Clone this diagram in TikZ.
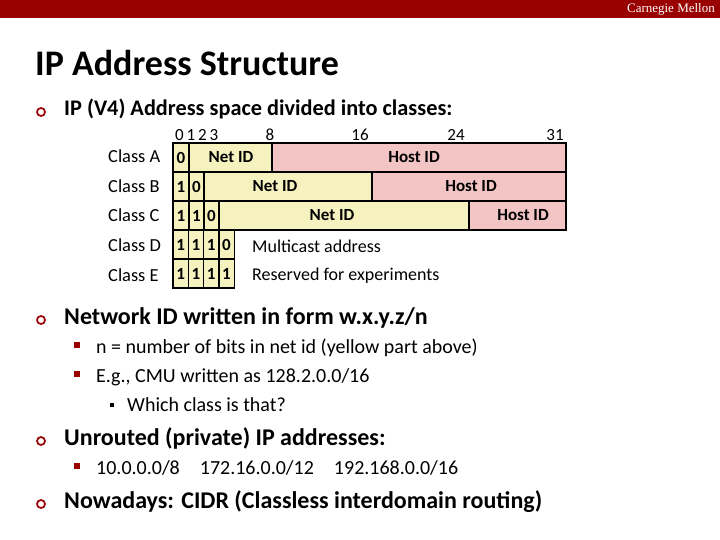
\documentclass[tikz,border=0pt]{standalone}
\usepackage{fontspec}
\setmainfont{Carlito}
\newfontfamily\cmufont{Liberation Serif}
\definecolor{cmured}{RGB}{153,0,0}
\definecolor{netyellow}{RGB}{246,242,192}
\definecolor{hostpink}{RGB}{242,196,196}

\begin{document}
\begin{tikzpicture}[x=1pt,y=-1pt]
\tikzstyle{bullet}=[circle,draw=cmured,line width=1.7pt,minimum size=8pt,inner sep=0pt]
\tikzstyle{sq}=[fill=cmured,minimum size=6pt,inner sep=0pt]
\tikzstyle{smallsq}=[fill=black,minimum size=4pt,inner sep=0pt]
\tikzstyle{lone}=[anchor=base west,inner sep=0pt,font=\fontsize{24}{28}\selectfont\bfseries]
\tikzstyle{ltwo}=[anchor=base west,inner sep=0pt,font=\fontsize{20}{24}\selectfont]
\tikzstyle{classlbl}=[anchor=west,inner sep=0pt,font=\fontsize{18.4}{22}\selectfont]
\tikzstyle{bitnum}=[inner sep=0pt,font=\fontsize{17}{20}\selectfont]
\tikzstyle{field}=[draw,line width=1.5pt,inner sep=0pt,minimum height=29pt]
\tikzstyle{net}=[field,fill=netyellow]
\tikzstyle{host}=[field,fill=hostpink]
\tikzstyle{ftext}=[inner sep=0pt,font=\fontsize{17}{20}\selectfont\bfseries]
\tikzstyle{note}=[anchor=west,inner sep=0pt,font=\fontsize{18}{21}\selectfont]
\useasboundingbox (0,0) rectangle (720,540);
% header bar
\fill[cmured] (0,0) rectangle (720,18);
\node[anchor=east,inner sep=0pt,text=white,font=\cmufont\fontsize{13}{15}\selectfont] (cmu) at (715,9.5) {Carnegie Mellon};
\node[anchor=base west,inner sep=0pt,font=\fontsize{36}{40}\selectfont\bfseries] (title) at (35,76) {IP Address Structure};
% first bullet
\node[bullet] (b1) at (41,112) {};
\node[lone,font=\fontsize{22.3}{26}\selectfont\bfseries] (t1) at (64,116) {IP (V4) Address space divided into classes:};
% bit numbers
\node[bitnum,anchor=west] (n0) at (175,135) {0\,1\,2\,3};
\node[bitnum] (n8) at (270,135) {8};
\node[bitnum] (n16) at (360,135) {16};
\node[bitnum] (n24) at (456,135) {24};
\node[bitnum] (n31) at (555,135) {31};
% class labels
\node[classlbl] (ca) at (108,156) {Class A};
\node[classlbl] (cb) at (108,186) {Class B};
\node[classlbl] (cc) at (108,215) {Class C};
\node[classlbl] (cd) at (108,245) {Class D};
\node[classlbl] (ce) at (108,275) {Class E};
% class A
\node[host,minimum width=294] (ahost) at (419,157.5) {};
\node[net,minimum width=83] (anet) at (230.5,157.5) {};
\node[net,minimum width=16] (a0) at (181,157.5) {};
\node[ftext] at (a0) {0};
\node[ftext] (anett) at (231,157.5) {Net ID};
\node[ftext] (ahostt) at (414,157.5) {Host ID};
% class B
\node[host,minimum width=194] (bhost) at (469,186.5) {};
\node[net,minimum width=168] (bnet) at (288,186.5) {};
\node[net,minimum width=16] (b0) at (181,186.5) {};
\node[net,minimum width=15] (b1c) at (196.5,186.5) {};
\node[ftext] at (b0) {1};
\node[ftext] at (b1c) {0};
\node[ftext] (bnett) at (275,186.5) {Net ID};
\node[ftext] (bhostt) at (471,186.5) {Host ID};
% class C
\node[host,minimum width=97] (chost) at (517.5,215.5) {};
\node[net,minimum width=250] (cnet) at (344,215.5) {};
\node[net,minimum width=16] (c0) at (181,215.5) {};
\node[net,minimum width=15] (c1) at (196.5,215.5) {};
\node[net,minimum width=15] (c2) at (211.5,215.5) {};
\node[ftext] at (c0) {1};
\node[ftext] at (c1) {1};
\node[ftext] at (c2) {0};
\node[ftext] (cnett) at (332,215.5) {Net ID};
\node[ftext] (chostt) at (523,215.5) {Host ID};
% class D and E
\foreach \row/\yy/\bits in {d/244.5/{1,1,1,0},e/273.5/{1,1,1,1}}{
  \foreach \b [count=\i] in \bits {
    \node[net,minimum width=15.5] (\row\i) at (165.5+15.25*\i,\yy) {};
    \node[ftext] at (\row\i) {\b};
  }
}
\node[note] (dtext) at (252,246) {Multicast address};
\node[note] (etext) at (252,276) {Reserved for experiments};
% second bullet
\node[bullet] (b2) at (41,320) {};
\node[lone] (t2) at (64,324) {Network ID written in form w.x.y.z/n};
\node[sq] (s21) at (77,345) {};
\node[ltwo] (t21) at (96,353.5) {n = number of bits in net id (yellow part above)};
\node[sq] (s22) at (77,374) {};
\node[ltwo] (t22) at (96,382.5) {E.g., CMU written as 128.2.0.0/16};
\node[smallsq] (s3) at (111.5,405) {};
\node[ltwo] (t3) at (127,411.5) {Which class is that?};
% third bullet
\node[bullet] (b3) at (41,441) {};
\node[lone] (t4) at (64,445) {Unrouted (private) IP addresses:};
\node[sq] (s41) at (77,466) {};
\node[ltwo] (t41) at (96,474.5) {10.0.0.0/8\hspace{1em}172.16.0.0/12\hspace{1em}192.168.0.0/16};
% fourth bullet
\node[bullet] (b4) at (41,504) {};
\node[lone] (t5) at (64,508) {Nowadays: CIDR (Classless interdomain routing)};
\end{tikzpicture}
\end{document}
